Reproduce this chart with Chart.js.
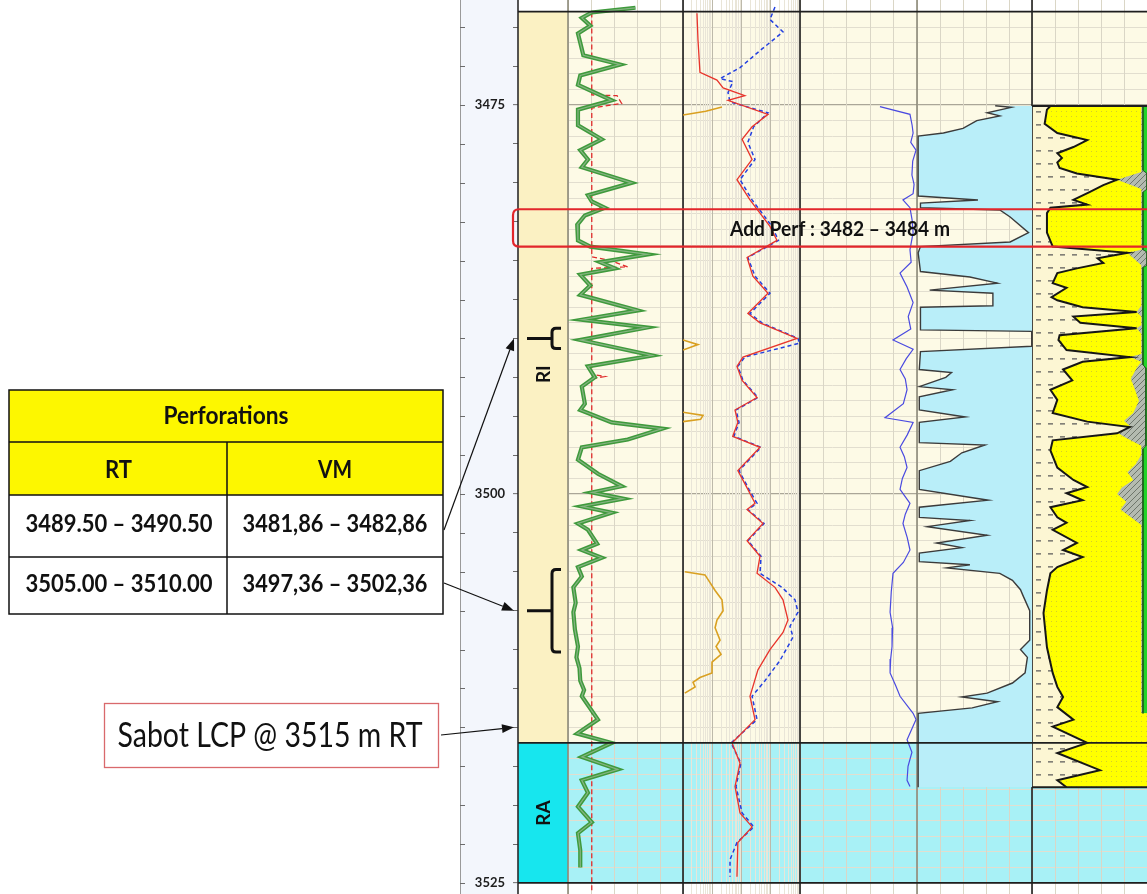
<!DOCTYPE html>
<html>
<head>
<meta charset="utf-8">
<script src="https://cdn.jsdelivr.net/npm/chart.js@4.4.1/dist/chart.umd.min.js"></script>
<style>
  html, body { margin: 0; padding: 0; background: #fff; }
  #log { display: block; }
</style>
</head>
<body>
<canvas id="log" width="1147" height="894"></canvas>
<script>
// depth window (m RT) and labelled depths
var depthMin = 3468.25, depthMax = 3525.71;
var depthLabels = [3475, 3500, 3525];

// reservoir zones
var zoneNames = ['RI', 'RA'];
var zoneTop = [3469.0, 3516.0];
var zoneBase = [3516.0, 3525.0];
var zoneLabelDepth = [3492.3, 3520.5];

// perforations
var perfTopRT = [3489.5, 3505.0];
var perfBaseRT = [3490.5, 3510.0];
var perfRT = ['3489.50 – 3490.50', '3505.00 – 3510.00'];
var perfVM = ['3481,86 – 3482,86', '3497,36 – 3502,36'];
var addPerf = [3482, 3484];
var sabotDepth = 3515;

// curves: [depth, value]
var grLog = [[3468.75,88],[3469.05,31],[3469.4,18],[3469.9,29],[3470.4,13],[3471.0,16],[3471.8,20],[3472.4,68],[3473.1,16],[3473.7,13],[3474.7,57],[3475.3,13],[3476.3,13],[3477.2,44],[3477.9,16],[3478.5,26],[3479.0,18],[3480.0,83],[3480.8,26],[3481.2,31],[3481.6,48],[3482.1,22],[3482.7,12],[3483.7,13],[3484.1,29],[3484.6,104],[3485.1,42],[3485.5,61],[3485.9,16],[3486.6,29],[3487.2,16],[3488.2,91],[3488.8,18],[3489.3,103],[3490.1,16],[3491.1,110],[3491.8,26],[3492.5,35],[3493.1,18],[3494.2,22],[3494.6,16],[3495.4,57],[3495.8,123],[3496.5,78],[3497.0,18],[3497.8,13],[3498.7,39],[3499.5,70],[3499.9,31],[3500.3,72],[3500.8,18],[3501.2,57],[3501.9,13],[3502.3,26],[3503.2,38],[3503.6,18],[3504.1,44],[3504.7,13],[3505.3,18],[3506.0,7],[3507.0,10],[3507.6,7],[3508.7,9],[3509.8,13],[3510.5,11],[3511.2,15],[3512.0,16],[3512.6,21],[3513.0,18],[3514.5,39],[3515.4,12],[3516.0,57],[3516.9,18],[3517.7,65],[3518.4,18],[3519.2,26],[3520.1,13],[3521.1,31],[3521.8,13],[3522.9,16],[3524.0,16]];
var grCut = [[3469.05,31],[3474.35,31],[3474.4,64],[3474.9,70],[3475.2,31],[3484.75,31],[3485.0,55],[3485.4,78],[3485.5,31],[3492.3,31],[3492.45,48],[3492.6,31],[3525.6,31]];

var resDeep = [[3469.1,0.60],[3470.8,0.65],[3472.9,0.76],[3473.4,2.9],[3473.9,4.7],[3474.4,26],[3474.7,6.9],[3475.6,161],[3476.4,46],[3477.2,21],[3478.5,46],[3479.8,14],[3481.1,39],[3482.8,188],[3483.7,327],[3484.8,31],[3486.0,49],[3487.1,161],[3488.4,33],[3489.0,86],[3490.0,1578],[3491.2,22.5],[3491.8,14],[3492.7,21],[3493.8,68],[3494.6,12],[3495.4,15],[3496.3,10],[3497.0,86],[3498.5,15],[3499.7,33],[3500.6,58],[3501.0,31],[3501.9,109],[3503.0,31],[3504.0,86],[3505.1,68],[3506.0,279],[3506.8,525],[3508.1,778],[3508.9,525],[3510.0,188],[3511.3,73],[3513.0,39],[3514.5,58],[3516.0,9.5],[3517.3,17.8],[3518.8,12],[3520.5,17.8],[3521.4,46],[3522.4,15],[3524.6,14]];
var resShallow = [[3468.7,279],[3469.5,188],[3470.3,525],[3471.5,86],[3472.6,17.8],[3473.3,3.7],[3473.5,10.2],[3474.2,6.9],[3474.8,8.1],[3475.5,161],[3476.4,52],[3477.4,33],[3478.5,58],[3479.8,17.8],[3481.1,46],[3482.8,221],[3483.7,366],[3484.8,33],[3486.0,58],[3487.1,188],[3488.4,39],[3489.0,100],[3490.0,1700],[3490.3,1950],[3491.2,26],[3491.8,15],[3492.7,22.5],[3493.8,73],[3494.6,13],[3495.4,16.5],[3496.3,11],[3497.0,93],[3498.5,16.5],[3499.7,36],[3500.6,68],[3501.0,33],[3501.9,118],[3503.0,33],[3504.0,93],[3505.1,86],[3506.0,480],[3506.8,1350],[3507.6,1709],[3508.5,910],[3509.2,1153],[3510.7,414],[3512.0,127],[3513.0,46],[3514.5,68],[3516.0,8.8],[3517.3,19],[3518.8,13],[3520.5,21],[3521.4,53],[3522.4,14],[3523.5,8.1],[3524.6,8.1]];
var resOrange = [[3475.13,4.3],[3475.4,1.2],[3475.64,0.2],[3475.7,null],[3490.1,0.2],[3490.4,0.65],[3490.75,0.2],[3490.8,null],[3494.75,0.2],[3494.95,0.97],[3495.2,0.8],[3495.35,0.2],[3495.4,null],[3505.0,0.23],[3505.2,1.13],[3505.7,1.68],[3506.2,2.5],[3506.8,4.3],[3507.5,4.7],[3508.1,2.9],[3508.6,2.5],[3509.4,3.7],[3509.8,2.7],[3510.3,4.0],[3510.8,1.96],[3511.5,1.96],[3511.8,0.76],[3512.1,0.44],[3512.4,0.52],[3512.8,0.23]];

var nphiLog = [[3475.1,0.040],[3475.6,-0.114],[3476.3,-0.125],[3476.8,-0.130],[3477.4,-0.118],[3477.9,-0.145],[3478.6,-0.128],[3479.5,-0.124],[3480.1,-0.135],[3480.7,-0.130],[3481.1,-0.078],[3481.6,-0.114],[3482.4,-0.125],[3483.2,-0.130],[3484.3,-0.114],[3485.1,-0.120],[3485.8,-0.063],[3486.7,-0.099],[3487.7,-0.130],[3488.6,-0.105],[3489.4,-0.118],[3490.1,-0.027],[3490.7,-0.130],[3491.3,-0.095],[3492.0,-0.063],[3492.6,-0.090],[3493.3,-0.099],[3494.2,-0.080],[3495.1,0.014],[3495.4,-0.130],[3496.2,-0.100],[3497.0,-0.063],[3497.6,-0.085],[3498.3,-0.099],[3499.0,-0.075],[3499.7,-0.063],[3500.6,-0.114],[3501.3,-0.090],[3501.9,-0.078],[3502.8,-0.100],[3503.6,-0.114],[3504.4,-0.080],[3505.1,-0.027],[3506.3,-0.018],[3507.6,-0.012],[3508.6,-0.025],[3509.8,-0.022],[3510.6,-0.015],[3511.5,-0.012],[3512.3,-0.040],[3513.0,-0.063],[3514.1,-0.130],[3514.5,-0.145],[3515.2,-0.120],[3515.8,-0.099],[3516.6,-0.124],[3517.5,-0.104],[3518.4,-0.099],[3518.8,-0.114]];

var vshLog = [[3475.05,0.68],[3475.15,0.82],[3475.5,0.61],[3475.7,0.72],[3476.0,0.52],[3476.5,0.40],[3476.8,0.23],[3477.0,0.01],[3480.85,0.01],[3481.1,0.53],[3481.3,0.03],[3481.6,0.03],[3481.75,0.72],[3482.2,0.81],[3483.2,0.97],[3483.8,0.81],[3484.1,0.03],[3484.5,0.01],[3485.7,0.03],[3486.05,0.46],[3486.45,0.70],[3486.9,0.11],[3487.1,0.66],[3487.9,0.66],[3488.0,0.03],[3489.45,0.03],[3489.55,1.0],[3490.5,1.0],[3490.85,0.03],[3492.0,0.02],[3492.2,0.30],[3492.5,0.25],[3493.1,0.02],[3493.3,0.31],[3493.75,0.02],[3494.6,0.02],[3495.05,0.42],[3495.4,0.02],[3496.7,0.02],[3496.85,0.59],[3497.35,0.39],[3497.9,0.29],[3498.5,0.02],[3499.7,0.02],[3500.4,0.62],[3500.85,0.02],[3501.5,0.02],[3501.7,0.46],[3502.1,0.09],[3502.65,0.61],[3503.15,0.17],[3503.45,0.39],[3503.8,0.02],[3504.35,0.02],[3504.55,0.46],[3504.75,0.26],[3505.1,0.72],[3505.55,0.83],[3506.15,0.90],[3506.5,0.92],[3507.5,0.98],[3509.4,0.98],[3510.0,0.90],[3510.5,0.96],[3511.5,0.94],[3512.15,0.83],[3512.8,0.61],[3513.05,0.39],[3513.35,0.70],[3513.75,0.48],[3514.1,0.01],[3518.85,0.01]];

// lithology column: sand line, left edge of grey, left edge of green
var sandLog = [[3475.06,0.16],[3475.3,0.13],[3476.2,0.11],[3476.8,0.22],[3477.25,0.48],[3477.7,0.36],[3478.1,0.22],[3478.4,0.26],[3478.7,0.22],[3479.05,0.24],[3479.4,0.39],[3479.8,0.74],[3480.15,0.62],[3480.6,0.50],[3481.1,0.36],[3481.4,0.48],[3481.6,0.16],[3481.95,0.13],[3483.2,0.13],[3484.1,0.18],[3484.5,0.83],[3484.85,0.57],[3485.15,0.62],[3485.5,0.39],[3485.8,0.22],[3486.45,0.18],[3486.75,0.30],[3487.35,0.17],[3487.55,0.22],[3488.0,0.44],[3488.3,0.91],[3488.6,0.36],[3489.0,0.42],[3489.35,0.91],[3489.8,0.24],[3490.1,0.23],[3490.75,0.30],[3491.2,0.85],[3491.5,0.44],[3492.0,0.27],[3492.7,0.35],[3493.3,0.16],[3493.95,0.22],[3494.8,0.18],[3495.35,0.48],[3495.7,0.85],[3496.1,0.74],[3496.55,0.18],[3497.2,0.16],[3498.3,0.22],[3499.1,0.36],[3499.55,0.48],[3499.95,0.30],[3500.4,0.44],[3500.85,0.16],[3501.5,0.22],[3501.85,0.30],[3502.3,0.18],[3503.15,0.39],[3503.6,0.27],[3504.05,0.44],[3504.7,0.22],[3505.1,0.16],[3506.2,0.13],[3507.65,0.10],[3509.85,0.13],[3510.85,0.16],[3511.5,0.18],[3512.4,0.22],[3513.05,0.27],[3513.7,0.22],[3514.5,0.36],[3514.95,0.18],[3516.0,0.48],[3516.65,0.22],[3517.75,0.59],[3518.4,0.22],[3518.85,0.30]];
var greyLeft = [[3475.06,0.95],[3479.3,0.95],[3479.8,0.74],[3480.4,0.95],[3484.3,0.95],[3484.5,0.83],[3485.3,0.95],[3487.9,0.95],[3488.3,0.91],[3488.6,0.95],[3489.15,0.95],[3489.35,0.91],[3489.7,0.95],[3491.0,0.95],[3491.2,0.85],[3491.5,0.95],[3491.9,0.91],[3492.6,0.86],[3493.4,0.90],[3494.0,0.93],[3494.8,0.88],[3495.3,0.80],[3495.7,0.86],[3496.1,0.75],[3496.4,0.82],[3496.9,0.95],[3497.5,0.95],[3498.1,0.90],[3498.6,0.83],[3499.1,0.88],[3499.6,0.78],[3500.0,0.74],[3500.5,0.82],[3501.0,0.77],[3501.5,0.86],[3502.0,0.95],[3514.1,0.95]];
var greenLeft = [[3475.06,0.965],[3479.2,0.965],[3479.4,1],[3480.4,1],[3480.6,0.965],[3484.3,0.965],[3484.45,1],[3485.3,1],[3485.45,0.965],[3491.7,0.965],[3491.9,0.99],[3496.9,0.99],[3497.1,0.965],[3514.1,0.965]];

var canvas = document.getElementById('log');
var ctx0 = canvas.getContext('2d');

Chart.defaults.font.family = 'Lato, "Open Sans", sans-serif';

function pts(list) {
  return list.map(function (p) { return { x: p[1], y: p[0] }; });
}

function pattern(size, paint) {
  var c = document.createElement('canvas');
  c.width = c.height = size;
  paint(c.getContext('2d'), size);
  return ctx0.createPattern(c, 'repeat');
}

var sandPattern = pattern(5, function (g, n) {
  g.fillStyle = '#ffff00'; g.fillRect(0, 0, n, n);
  g.fillStyle = '#d4cc2c'; g.fillRect(1, 1, 1, 1);
});
var greyPattern = pattern(6, function (g, n) {
  g.fillStyle = '#b4bbb0'; g.fillRect(0, 0, n, n);
  g.strokeStyle = '#6e766b'; g.lineWidth = 1;
  g.beginPath(); g.moveTo(0, n); g.lineTo(n, 0); g.stroke();
});

function curve(axis, list, color, width, extra) {
  var ds = {
    xAxisID: axis, yAxisID: 'depth', data: pts(list),
    borderColor: color, borderWidth: width, pointRadius: 0,
    fill: false, clip: 0, order: 3
  };
  for (var k in (extra || {})) ds[k] = extra[k];
  return ds;
}

function evenTicks(min, max, n) {
  var t = [];
  for (var i = 0; i <= n; i++) t.push({ value: min + (max - min) * i / n });
  return t;
}

function logTicks() {
  var t = [];
  [0.2, 2, 20, 200].forEach(function (b) {
    for (var k = 1; k < 10; k++) t.push({ value: b * k, major: k === 1 });
  });
  t.push({ value: 2000, major: true });
  return t;
}

function depthTicks(s) {
  var t = [];
  for (var v = Math.ceil(depthMin * 2) / 2; v <= depthMax; v += 0.5) t.push({ value: v });
  s.ticks = t;
}

function track(weight, size, extra) {
  var o = {
    axis: 'x', type: 'linear', position: 'bottom', stack: 'tracks',
    stackWeight: size, weight: weight, bounds: 'data',
    ticks: { display: false },
    grid: { drawTicks: false, color: '#dad6c6', lineWidth: 1 },
    border: { display: false }
  };
  for (var k in extra) o[k] = extra[k];
  return o;
}

function dy(chart, d) { return chart.scales.depth.getPixelForValue(d); }

function fitText(c, text, cx, cy, font, width) {
  c.save();
  c.font = font;
  c.textAlign = 'center';
  c.textBaseline = 'middle';
  var k = width ? width / c.measureText(text).width : 1;
  c.translate(cx, cy);
  c.scale(k, 1);
  c.fillText(text, 0, 0);
  c.restore();
}

function arrow(c, x0, y0, x1, y1) {
  var a = Math.atan2(y1 - y0, x1 - x0), L = 12, W = 4.5;
  var ca = Math.cos(a), sa = Math.sin(a);
  c.beginPath(); c.moveTo(x0, y0); c.lineTo(x1 - L * ca, y1 - L * sa); c.stroke();
  c.beginPath();
  c.moveTo(x1, y1);
  c.lineTo(x1 - L * ca + W * sa, y1 - L * sa - W * ca);
  c.lineTo(x1 - L * ca - W * sa, y1 - L * sa + W * ca);
  c.closePath(); c.fill();
}

function bracket(c, x, t, b) {
  var m = (t + b) / 2, r = 4;
  c.beginPath();
  c.moveTo(x - 25, m); c.lineTo(x, m);
  c.moveTo(x + 9, t); c.lineTo(x + r, t);
  c.quadraticCurveTo(x, t, x, t + r);
  c.lineTo(x, b - r);
  c.quadraticCurveTo(x, b, x + r, b);
  c.lineTo(x + 9, b);
  c.stroke();
}

var logDecor = {
  id: 'logDecor',
  beforeDraw: function (chart) {
    var c = chart.ctx, s = chart.scales, a = chart.chartArea;
    c.save();
    c.fillStyle = '#ffffff';
    c.fillRect(0, 0, chart.width, chart.height);
    c.fillStyle = '#f3f6fc';
    c.fillRect(s.depth.left, 0, s.depth.width, chart.height);
    for (var i = 0; i < zoneNames.length; i++) {
      var t = dy(chart, zoneTop[i]), b = dy(chart, zoneBase[i]);
      c.fillStyle = i === 0 ? '#fdfae6' : '#a8f1f6';
      c.fillRect(s.gr.left, t, a.right - s.gr.left, b - t);
    }
    c.restore();
  },
  beforeDatasetsDraw: function (chart) {
    var c = chart.ctx, s = chart.scales, a = chart.chartArea, i, y;
    c.save();
    // zone column
    c.fillStyle = '#ffffff';
    c.fillRect(s.zone.left, a.top, s.zone.width, a.bottom - a.top);
    for (i = 0; i < zoneNames.length; i++) {
      var t = dy(chart, zoneTop[i]), b = dy(chart, zoneBase[i]);
      c.fillStyle = i === 0 ? '#fbf1c3' : '#17e6ee';
      c.fillRect(s.zone.left, t, s.zone.width, b - t);
    }
    // shale background and symbol in lithology column
    var lt = dy(chart, sandLog[0][0]), lb = dy(chart, sandLog[sandLog.length - 1][0]);
    c.fillStyle = '#fcf6d3';
    c.fillRect(s.litho.left, lt, s.litho.width, lb - lt);
    c.strokeStyle = '#5a5a5a';
    c.lineWidth = 1.3;
    c.setLineDash([5, 7]);
    c.beginPath();
    for (y = lt + 6; y < lb - 2; y += 13) { c.moveTo(s.litho.left + 4, y); c.lineTo(s.litho.right, y); }
    c.stroke();
    c.setLineDash([]);
    // track edges
    var edges = [[s.zone.left, '#2b2b2b'], [s.gr.left, '#8c8a7a'], [s.res.left, '#1e1e1e'],
                 [s.nphi.left, '#1e1e1e'], [s.vsh.left, '#8c8a7a'], [s.litho.left, '#1e1e1e']];
    c.lineWidth = 1.6;
    edges.forEach(function (e) {
      c.strokeStyle = e[1];
      c.beginPath(); c.moveTo(e[0], a.top); c.lineTo(e[0], a.bottom); c.stroke();
    });
    c.restore();
  },
  afterDatasetsDraw: function (chart) {
    var c = chart.ctx, s = chart.scales, a = chart.chartArea, i, y;
    c.save();
    // zone boundaries
    c.strokeStyle = '#1e1e1e';
    c.lineWidth = 1.8;
    [zoneTop[0], zoneBase[0], zoneBase[1]].forEach(function (d) {
      y = dy(chart, d);
      c.beginPath(); c.moveTo(s.zone.left, y); c.lineTo(a.right, y); c.stroke();
    });
    // lithology top and base
    c.lineWidth = 2;
    [sandLog[0][0], sandLog[sandLog.length - 1][0]].forEach(function (d) {
      y = dy(chart, d);
      c.beginPath(); c.moveTo(s.litho.left, y); c.lineTo(s.litho.right, y); c.stroke();
    });
    // zone names
    c.fillStyle = '#111';
    for (i = 0; i < zoneNames.length; i++) {
      c.save();
      c.translate(s.zone.left + 26, dy(chart, zoneLabelDepth[i]));
      c.rotate(-Math.PI / 2);
      c.font = 'bold 19px Lato';
      c.textAlign = 'center'; c.textBaseline = 'middle';
      c.fillText(zoneNames[i], 0, 0);
      c.restore();
    }
    // perforation brackets
    c.strokeStyle = '#111';
    c.lineWidth = 3;
    for (i = 0; i < perfTopRT.length; i++) {
      bracket(c, s.zone.left + 34, dy(chart, perfTopRT[i] - 0.15), dy(chart, perfBaseRT[i] + 0.15));
    }
    // added perforation interval
    var t = dy(chart, addPerf[0] - 0.3), b = dy(chart, addPerf[1] + 0.1), l = s.zone.left - 5, r = a.right + 20, rr = 6;
    c.strokeStyle = '#e2262b';
    c.lineWidth = 2.2;
    c.beginPath();
    c.moveTo(r, t); c.lineTo(l + rr, t); c.quadraticCurveTo(l, t, l, t + rr);
    c.lineTo(l, b - rr); c.quadraticCurveTo(l, b, l + rr, b); c.lineTo(r, b);
    c.stroke();
    c.fillStyle = '#111';
    fitText(c, 'Add Perf : ' + addPerf[0] + ' – ' + addPerf[1] + ' m', s.res.right + 40, dy(chart, (addPerf[0] + addPerf[1]) / 2), 'bold 20px Lato', 220);
    c.restore();
  },
  afterDraw: function (chart) {
    var c = chart.ctx, s = chart.scales;
    c.save();
    // depth strip left edge and ticks
    c.strokeStyle = '#9a9a9a';
    c.lineWidth = 1;
    c.beginPath(); c.moveTo(s.depth.left + 0.5, 0); c.lineTo(s.depth.left + 0.5, chart.height); c.stroke();
    c.strokeStyle = '#6b6b6b';
    s.depth.ticks.forEach(function (tk) {
      if (tk.value % 2.5 !== 0) return;
      var y = Math.round(dy(chart, tk.value)) + 0.5;
      c.beginPath(); c.moveTo(s.depth.left, y); c.lineTo(s.depth.left + 5, y); c.stroke();
    });

    // perforation table
    var L = 9, R = 443, M = 227, rows = [390, 442, 495, 557, 614];
    c.fillStyle = '#fdf700';
    c.fillRect(L, rows[0], R - L, rows[2] - rows[0]);
    c.fillStyle = '#ffffff';
    c.fillRect(L, rows[2], R - L, rows[4] - rows[2]);
    c.strokeStyle = '#111';
    c.lineWidth = 1.5;
    c.strokeRect(L, rows[0], R - L, rows[4] - rows[0]);
    c.beginPath();
    for (var i = 1; i < 4; i++) { c.moveTo(L, rows[i]); c.lineTo(R, rows[i]); }
    c.moveTo(M, rows[1]); c.lineTo(M, rows[4]);
    c.stroke();
    c.fillStyle = '#111';
    fitText(c, 'Perforations', (L + R) / 2, 416, 'bold 24px Lato', 125);
    fitText(c, 'RT', 118.5, 470, 'bold 24px Lato', 27);
    fitText(c, 'VM', 335, 470, 'bold 24px Lato', 34);
    for (i = 0; i < perfRT.length; i++) {
      var yy = i === 0 ? 524 : 584;
      fitText(c, perfRT[i], (L + M) / 2 + 1, yy, 'bold 24px Lato', 187);
      fitText(c, perfVM[i], (M + R) / 2, yy, 'bold 24px Lato', 185);
    }

    // casing shoe note
    c.strokeStyle = '#d9696c';
    c.lineWidth = 1.3;
    c.strokeRect(104.5, 703.5, 334, 64);
    c.fillStyle = '#111';
    fitText(c, 'Sabot LCP @ ' + sabotDepth + ' m RT', 270, 736, '34px Lato', 305);

    // arrows
    c.strokeStyle = '#111';
    c.fillStyle = '#111';
    c.lineWidth = 1.2;
    var tip = s.zone.left - 4;
    arrow(c, 444, 530, tip, dy(chart, (perfTopRT[0] + perfBaseRT[0]) / 2));
    arrow(c, 444, 583, tip, dy(chart, (perfTopRT[1] + perfBaseRT[1]) / 2));
    arrow(c, 441, 735, tip, dy(chart, sabotDepth));
    c.restore();
  }
};

new Chart(canvas, {
  type: 'line',
  data: {
    datasets: [
      curve('vsh', vshLog, '#3b3b3b', 1.4, { fill: { value: 1 }, backgroundColor: '#b9eef9', order: 10 }),
      curve('litho', sandLog, 'rgba(0,0,0,0)', 0, { fill: { value: 1 }, backgroundColor: sandPattern, order: 40 }),
      curve('litho', greyLeft, 'rgba(0,0,0,0)', 0, { fill: { value: 1 }, backgroundColor: greyPattern, order: 30 }),
      curve('litho', greenLeft, '#1d5e1d', 1, { fill: { value: 1 }, backgroundColor: '#22d428', order: 20 }),
      curve('litho', sandLog, '#161616', 2, { order: 5 }),
      curve('gr', grCut, '#e02b2b', 1.3, { borderDash: [5, 3], order: 4 }),
      curve('gr', grLog, '#3f9a3c', 4.2, { order: 2 }),
      curve('gr', grLog, '#86b482', 1.2, { order: 1 }),
      curve('res', resOrange, '#d9a021', 1.6),
      curve('res', resDeep, '#e8342b', 1.3),
      curve('res', resShallow, '#2340e0', 1.5, { borderDash: [4, 3] }),
      curve('nphi', nphiLog, '#4a4ae0', 1.2)
    ]
  },
  options: {
    indexAxis: 'y',
    responsive: false,
    animation: false,
    devicePixelRatio: 1,
    events: [],
    layout: { padding: { left: 460, right: 0, top: 0, bottom: 0 } },
    plugins: { legend: { display: false }, tooltip: { enabled: false } },
    elements: { point: { radius: 0 }, line: { tension: 0 } },
    scales: {
      depth: {
        axis: 'y', type: 'linear', position: 'left', reverse: true,
        min: depthMin, max: depthMax, bounds: 'data',
        afterBuildTicks: depthTicks,
        afterFit: function (s) { s.width = 58; s.paddingTop = 0; s.paddingBottom = 0; },
        ticks: {
          autoSkip: false, padding: 8, color: '#1d1d1d',
          font: { family: 'Lato', weight: 'bold', size: 13 },
          callback: function (v) { return depthLabels.indexOf(v) >= 0 ? String(v) : ''; }
        },
        grid: {
          tickLength: 5, tickWidth: 1,
          color: function (ctx) {
            var v = ctx.tick ? ctx.tick.value : 0.5;
            if (v % 25 === 0) return '#aaa698';
            if (v % 1 === 0) return '#e2decf';
            return 'rgba(0,0,0,0)';
          },
          lineWidth: function (ctx) { return ctx.tick && ctx.tick.value % 25 === 0 ? 1.3 : 1; },
          tickColor: function (ctx) { return ctx.tick && ctx.tick.value % 2.5 === 0 ? '#6b6b6b' : 'rgba(0,0,0,0)'; }
        },
        border: { display: false }
      },
      zone: track(1, 50, { min: 0, max: 1, grid: { display: false, drawTicks: false } }),
      gr: track(2, 115, { min: 0, max: 150, afterBuildTicks: function (s) { s.ticks = evenTicks(0, 150, 5); } }),
      res: track(3, 117, {
        type: 'logarithmic', min: 0.2, max: 2000,
        afterBuildTicks: function (s) { s.ticks = logTicks(); },
        grid: {
          drawTicks: false,
          color: function (ctx) { return ctx.tick && ctx.tick.major ? '#bdb9aa' : '#e9e5d8'; }
        }
      }),
      nphi: track(4, 117, { min: -0.15, max: 0.45, reverse: true, afterBuildTicks: function (s) { s.ticks = evenTicks(-0.15, 0.45, 5); } }),
      vsh: track(5, 115, { min: 0, max: 1, afterBuildTicks: function (s) { s.ticks = evenTicks(0, 1, 5); } }),
      litho: track(6, 115, { min: 0, max: 1, afterBuildTicks: function (s) { s.ticks = evenTicks(0, 1, 5); } })
    }
  },
  plugins: [logDecor]
});
</script>
</body>
</html>
